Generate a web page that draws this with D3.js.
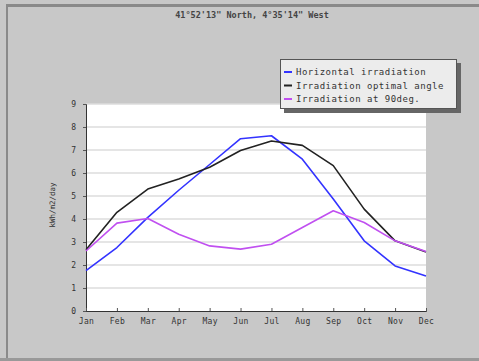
<!DOCTYPE html>
<html><head><meta charset="utf-8">
<script src="https://cdn.jsdelivr.net/npm/d3@7"></script>
<style>body{margin:0;background:#fff}svg{display:block}text{font-family:"DejaVu Sans Mono",monospace}</style>
</head><body><svg id="c" width="479" height="361"></svg>
<script>
const months = ["Jan","Feb","Mar","Apr","May","Jun","Jul","Aug","Sep","Oct","Nov","Dec"];
const horizontal = [1.76,2.76,4.07,5.25,6.37,7.49,7.62,6.6,4.87,3.05,1.96,1.52];
const optimal = [2.66,4.29,5.3,5.74,6.25,6.98,7.39,7.2,6.32,4.43,3.05,2.57];
const deg90 = [2.61,3.82,4.02,3.34,2.83,2.69,2.9,3.63,4.36,3.85,3.05,2.59];
const yTicks = [0,1,2,3,4,5,6,7,8,9];
const seriesNames = ["Horizontal irradiation","Irradiation optimal angle","Irradiation at 90deg."];
const seriesColors = ["#3333ff","#222222","#c050f0"];
const title = "41°52'13\" North, 4°35'14\" West";
const yLabel = "kWh/m2/day";

const svg = d3.select("#c");
svg.append("rect").attr("x",0).attr("y",0).attr("width",479).attr("height",361).attr("fill","#c8c8c8");
svg.append("rect").attr("x",6).attr("y",4).attr("width",473).attr("height",3).attr("fill","#8a8a8a");
svg.append("rect").attr("x",6).attr("y",4).attr("width",2).attr("height",357).attr("fill","#8a8a8a");
svg.append("rect").attr("x",0).attr("y",358).attr("width",479).attr("height",3).attr("fill","#999");

const L=86,R=426,T=104,B=311;
const x = d3.scalePoint().domain(months).range([L,R]);
const y = d3.scaleLinear().domain([0,9]).range([B,T]);

svg.append("rect").attr("x",L).attr("y",T).attr("width",R-L).attr("height",B-T).attr("fill","#fff");
svg.append("g").selectAll("line").data(yTicks.slice(1)).join("line")
  .attr("x1",L).attr("x2",R).attr("y1",d=>y(d)).attr("y2",d=>y(d))
  .attr("stroke","#dcdcdc").attr("stroke-width",1.5);

const ya = svg.append("g").attr("transform",`translate(${L},0)`)
  .call(d3.axisLeft(y).tickValues(yTicks).tickSize(3).tickPadding(7).tickFormat(d3.format("d")));
ya.select(".domain").attr("stroke","#333");
ya.selectAll("line").attr("stroke","#555");
ya.selectAll("text").attr("font-size",8).attr("fill","#333");

const xa = svg.append("g").attr("transform",`translate(0,${B})`)
  .call(d3.axisBottom(x).tickSize(-3).tickPadding(7));
xa.select(".domain").attr("stroke","#333");
xa.selectAll("line").attr("stroke","#555");
xa.selectAll("text").attr("font-size",8).attr("letter-spacing",0.3).attr("fill","#333");

const line = d3.line().x((d,i)=>x(months[i])).y(d=>y(d));
[horizontal,optimal,deg90].forEach((s,k)=>{
  svg.append("path").datum(s).attr("d",line).attr("fill","none")
    .attr("stroke",seriesColors[k]).attr("stroke-width",1.6).attr("stroke-linejoin","round");
});

svg.append("text").attr("x",252).attr("y",18).attr("text-anchor","middle")
  .attr("font-size",8.5).attr("font-weight","bold").attr("fill","#444").text(title);
svg.append("text").attr("transform","translate(55,205) rotate(-90)").attr("text-anchor","middle")
  .attr("font-size",7.5).attr("fill","#333").text(yLabel);

// legend
const lg = svg.append("g").attr("transform","translate(280,59)");
lg.append("rect").attr("x",4).attr("y",4).attr("width",177).attr("height",50).attr("fill","#666");
lg.append("rect").attr("x",0.5).attr("y",0.5).attr("width",176).attr("height",49).attr("fill","#ececec").attr("stroke","#555");
seriesNames.forEach((n,k)=>{
  const yy = 13 + k*13.5;
  lg.append("line").attr("x1",4).attr("x2",12).attr("y1",yy).attr("y2",yy).attr("stroke",seriesColors[k]).attr("stroke-width",2);
  lg.append("text").attr("x",16).attr("y",yy+3).attr("font-size",9).attr("letter-spacing",0.5).attr("fill","#333").text(n);
});
</script></body></html>
